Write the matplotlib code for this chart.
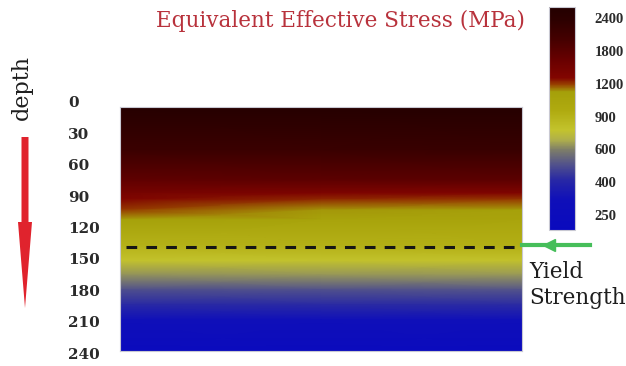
import numpy as np
import matplotlib
matplotlib.use("Agg")
import matplotlib.pyplot as plt
from matplotlib.colors import LinearSegmentedColormap, FuncNorm
from matplotlib.patches import FancyArrow
from matplotlib.lines import Line2D

# ---------------- data ----------------
depth_ticks = [0, 30, 60, 90, 120, 150, 180, 210, 240]
stress_ticks = [250, 400, 600, 900, 1200, 1800, 2400]

x_pos = [0.0, 0.5, 1.0]  # left, middle, right of the section
depths = [0, 45, 73, 86, 92, 102, 111, 136, 150, 164, 178, 192, 207, 240]
stress_left = [2610, 2160, 1740, 1450, 1320, 1200, 1110, 900, 780, 630, 500, 414, 310, 190]
stress_mid = [2610, 2180, 1760, 1360, 1230, 1130, 1080, 910, 785, 635, 505, 417, 315, 190]
stress_right = [2610, 2200, 1780, 1320, 1200, 1110, 1060, 920, 790, 640, 510, 420, 320, 190]
yield_depth = 137

# ---------------- colour scale ----------------
cmap_stops = [
    (0.000, (10, 10, 190)),
    (0.135, (15, 15, 185)),
    (0.224, (40, 40, 165)),
    (0.291, (80, 80, 140)),
    (0.359, (125, 125, 105)),
    (0.404, (175, 175, 75)),
    (0.448, (195, 195, 45)),
    (0.538, (175, 170, 15)),
    (0.619, (165, 160, 10)),
    (0.655, (150, 60, 0)),
    (0.682, (130, 5, 0)),
    (0.762, (105, 0, 0)),
    (0.852, (70, 0, 0)),
    (0.942, (45, 0, 0)),
    (1.000, (35, 0, 0)),
]
cmap = LinearSegmentedColormap.from_list(
    "stress", [(p, tuple(c / 255 for c in rgb)) for p, rgb in cmap_stops], N=512)

vmin, vmax = 181, 2604
nx = [vmin] + stress_ticks + [vmax]
ny = [-0.46] + list(range(len(stress_ticks))) + [6.34]
norm = FuncNorm((lambda v: np.interp(v, nx, ny), lambda l: np.interp(l, ny, nx)),
                vmin=vmin, vmax=vmax)

# ---------------- figure ----------------
W, H = 626, 366
fig = plt.figure(figsize=(W / 100, H / 100), dpi=100)
serif = "DejaVu Serif"

def fx(px):
    return px / W

def fy(py):
    return 1 - py / H

ax = fig.add_axes([fx(120), fy(351), fx(522) - fx(120), fy(107) - fy(351)])
Z = np.column_stack([stress_left, stress_mid, stress_right])
X, Y = np.meshgrid(x_pos, depths)
mesh = ax.pcolormesh(X, Y, Z, shading="gouraud", cmap=cmap, norm=norm)
ax.set_xlim(0, 1)
ax.set_ylim(236.2, 3.8)
ax.set_xticks([])
ax.set_yticks([])
# depth labels (the first and last sit just outside the image edge)
for d in depth_ticks:
    ax.text(-0.129, d, str(d), transform=ax.get_yaxis_transform(), ha="left",
            va="center", fontfamily=serif, fontsize=11, color="#2a2a2a",
            fontweight="bold", clip_on=False)
for s in ax.spines.values():
    s.set_color("#c8c8d2")
    s.set_linewidth(0.8)

ax.axhline(yield_depth, xmin=0.015, xmax=1.0, color="#151515", lw=2.2,
           dashes=(3.5, 3.0))

# colorbar
cax = fig.add_axes([fx(549), fy(230), fx(575) - fx(549), fy(7) - fy(230)])
cb = fig.colorbar(mesh, cax=cax, ticks=stress_ticks)
cb.ax.set_yticklabels([str(s) for s in stress_ticks], fontfamily="Liberation Serif",
                      fontsize=10.5, color="#2a2a2a", fontweight="bold")
cb.ax.tick_params(length=0, pad=14)
cb.ax.minorticks_off()
cb.outline.set_edgecolor("#c8c8d2")
cb.outline.set_linewidth(0.8)

# title
fig.text(fx(341), fy(21), "Equivalent Effective Stress (MPa)", ha="center",
         va="center", fontfamily=serif, fontsize=15.5, color="#b8323c")

# depth label + red arrow
fig.text(fx(22), fy(88), "depth", rotation=90, ha="center", va="center",
         fontfamily=serif, fontsize=16, color="#1e1e1e")
arrow = FancyArrow(fx(25), fy(137), 0, fy(308) - fy(137), width=fx(7),
                   head_width=fx(14), head_length=(fy(222) - fy(308)),
                   length_includes_head=True, color="#e0232d", lw=0,
                   transform=fig.transFigure)
fig.add_artist(arrow)

# green arrow to yield line
fig.add_artist(Line2D([fx(522), fx(590)], [fy(245), fy(245)], color="#46be5a",
                      lw=3.0, transform=fig.transFigure))
fig.add_artist(Line2D([fx(549)], [fy(245)], marker="<", markersize=8,
                      color="#46be5a", transform=fig.transFigure))

fig.text(fx(529), fy(272), "Yield", ha="left", va="center", fontfamily=serif,
         fontsize=15.5, color="#1e1e1e")
fig.text(fx(529), fy(298), "Strength", ha="left", va="center", fontfamily=serif,
         fontsize=15.5, color="#1e1e1e")

fig.savefig("out.png", dpi=100)
